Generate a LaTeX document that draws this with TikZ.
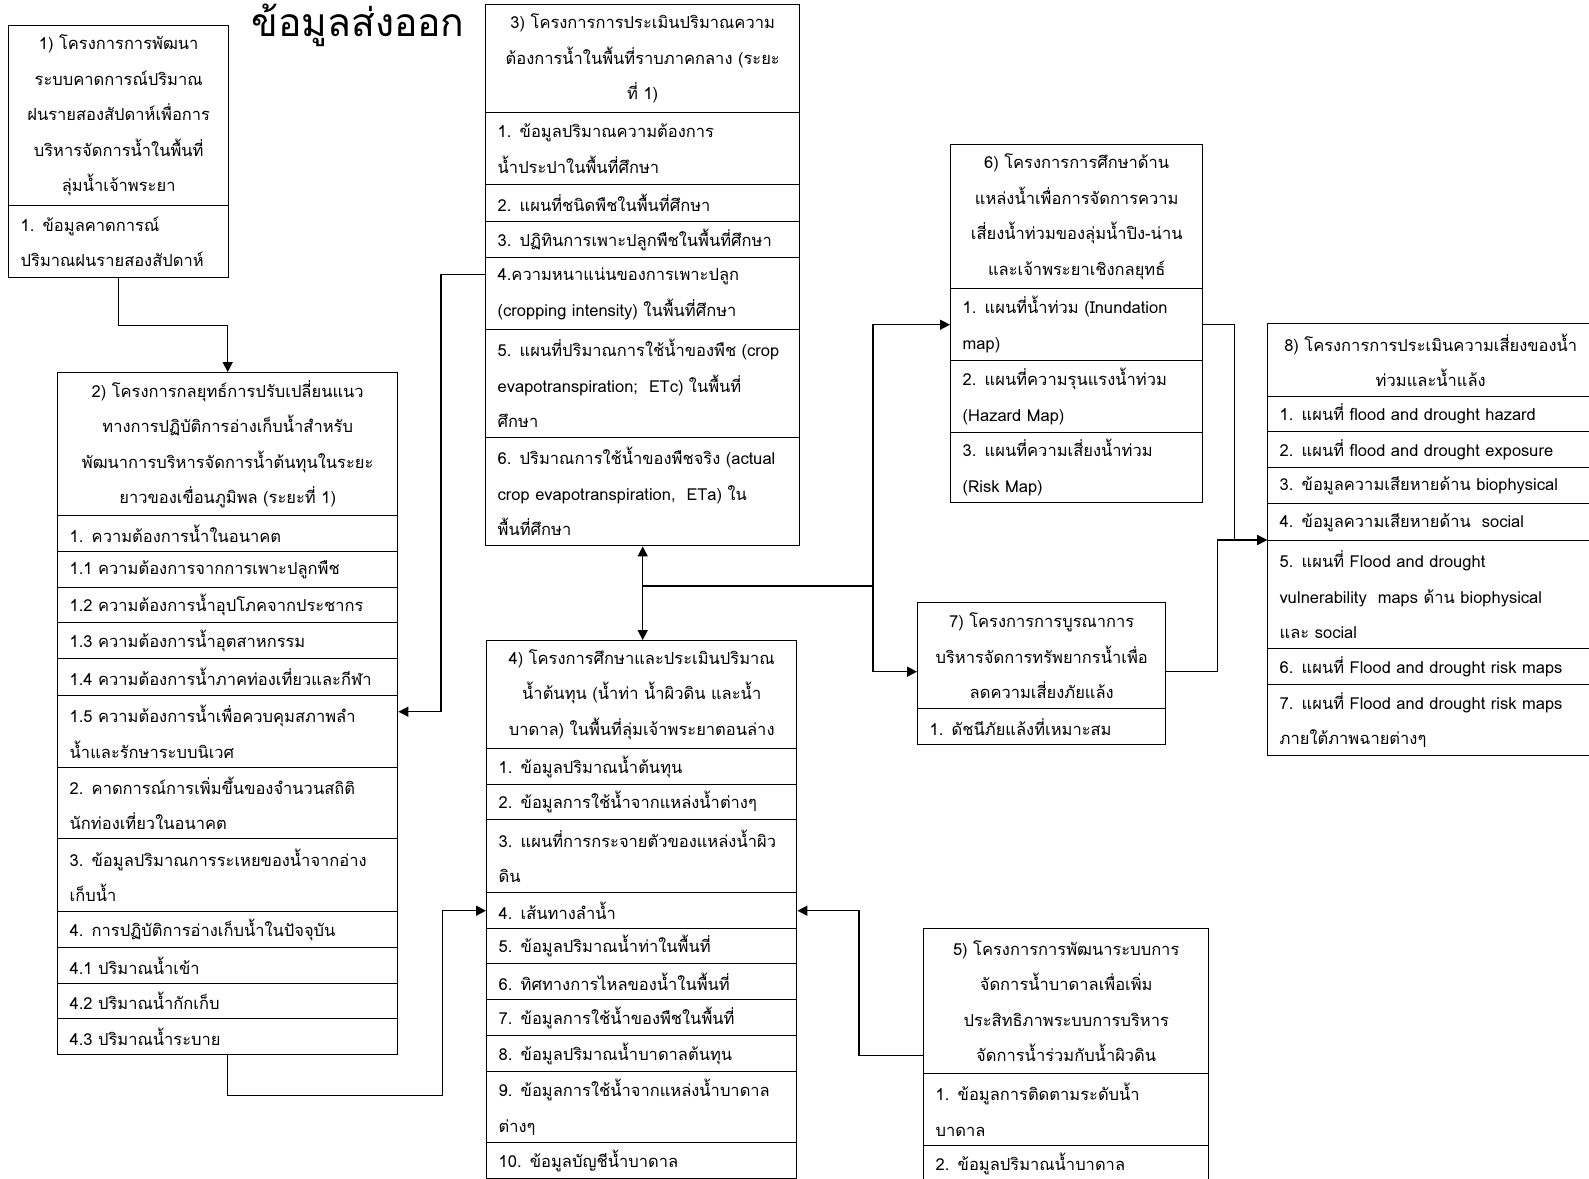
\documentclass[tikz,border=0pt]{standalone}
\usepackage{fontspec}
\setmainfont{Loma}[Script=Thai]
\usetikzlibrary{arrows.meta,positioning}

\tikzset{
  box/.style={draw,line width=1.4pt,anchor=north west,inner ysep=0pt,
    font=\fontsize{16.5}{35.5}\selectfont},
  hd/.style 2 args={box,align=center,inner xsep=4pt,text width=#1pt-8pt,minimum height=#2pt},
  rw/.style 2 args={box,align=left,inner xsep=12pt,text width=#1pt-24pt,minimum height=#2pt},
  ln/.style={line width=1.4pt},
  ar/.style={ln,-{Triangle[length=10pt,width=10pt]}},
  dar/.style={ln,{Triangle[length=10pt,width=10pt]}-{Triangle[length=10pt,width=10pt]}}
}

\begin{document}
\begin{tikzpicture}[x=1pt,y=-1pt]
\useasboundingbox (0,0) rectangle (1589,1178);

\node[font=\fontsize{39}{41}\selectfont,anchor=base] (ttl) at (358,36) {ข้อมูลส่งออก};

% project 1
\node[hd={220}{180}] (p1) at (8,25) {1) โครงการการพัฒนา\\ระบบคาดการณ์ปริมาณ\\ฝนรายสองสัปดาห์เพื่อการ\\บริหารจัดการน้ำในพื้นที่\\ลุ่มน้ำเจ้าพระยา};
\node[rw={220}{72}] (p1r1) at (8,205) {1. ข้อมูลคาดการณ์\\ปริมาณฝนรายสองสัปดาห์};

% project 3
\node[hd={314}{108}] (p3) at (485,4) {3) โครงการการประเมินปริมาณความ\\ต้องการน้ำในพื้นที่ราบภาคกลาง (ระยะ\\ที่ 1)};
\node[rw={314}{72}] (p3r1) at (485,112) {1. ข้อมูลปริมาณความต้องการ\\น้ำประปาในพื้นที่ศึกษา};
\node[rw={314}{37}] (p3r2) at (485,184) {2. แผนที่ชนิดพืชในพื้นที่ศึกษา};
\node[rw={314}{36}] (p3r3) at (485,221) {3. ปฏิทินการเพาะปลูกพืชในพื้นที่ศึกษา};
\node[rw={314}{72}] (p3r4) at (485,257) {4.ความหนาแน่นของการเพาะปลูก\\(cropping~intensity) ในพื้นที่ศึกษา};
\node[rw={314}{108}] (p3r5) at (485,329) {5. แผนที่ปริมาณการใช้น้ำของพืช (crop\\evapotranspiration;~ ETc) ในพื้นที่\\ศึกษา};
\node[rw={314}{108}] (p3r6) at (485,437) {6. ปริมาณการใช้น้ำของพืชจริง (actual\\crop evapotranspiration,~ ETa) ใน\\พื้นที่ศึกษา};

% project 2
\node[hd={340}{143}] (p2) at (57,372) {2) โครงการกลยุทธ์การปรับเปลี่ยนแนว\\ทางการปฏิบัติการอ่างเก็บน้ำสำหรับ\\พัฒนาการบริหารจัดการน้ำต้นทุนในระยะ\\ยาวของเขื่อนภูมิพล (ระยะที่ 1)};
\node[rw={340}{36}] (p2r1) at (57,515) {1. ความต้องการน้ำในอนาคต};
\node[rw={340}{36}] (p2r2) at (57,551) {1.1 ความต้องการจากการเพาะปลูกพืช};
\node[rw={340}{35}] (p2r3) at (57,587) {1.2 ความต้องการน้ำอุปโภคจากประชากร};
\node[rw={340}{36}] (p2r4) at (57,622) {1.3 ความต้องการน้ำอุตสาหกรรม};
\node[rw={340}{37}] (p2r5) at (57,658) {1.4 ความต้องการน้ำภาคท่องเที่ยวและกีฬา};
\node[rw={340}{72}] (p2r6) at (57,695) {1.5 ความต้องการน้ำเพื่อควบคุมสภาพลำ\\น้ำและรักษาระบบนิเวศ};
\node[rw={340}{71}] (p2r7) at (57,767) {2. คาดการณ์การเพิ่มขึ้นของจำนวนสถิติ\\นักท่องเที่ยวในอนาคต};
\node[rw={340}{73}] (p2r8) at (57,838) {3. ข้อมูลปริมาณการระเหยของน้ำจากอ่าง\\เก็บน้ำ};
\node[rw={340}{36}] (p2r9) at (57,911) {4. การปฏิบัติการอ่างเก็บน้ำในปัจจุบัน};
\node[rw={340}{36}] (p2r10) at (57,947) {4.1 ปริมาณน้ำเข้า};
\node[rw={340}{35}] (p2r11) at (57,983) {4.2 ปริมาณน้ำกักเก็บ};
\node[rw={340}{36}] (p2r12) at (57,1018) {4.3 ปริมาณน้ำระบาย};

% project 4
\node[hd={310}{108}] (p4) at (486,640) {4) โครงการศึกษาและประเมินปริมาณ\\น้ำต้นทุน (น้ำท่า น้ำผิวดิน และน้ำ\\บาดาล) ในพื้นที่ลุ่มเจ้าพระยาตอนล่าง};
\node[rw={310}{36}] (p4r1) at (486,748) {1. ข้อมูลปริมาณน้ำต้นทุน};
\node[rw={310}{35}] (p4r2) at (486,784) {2. ข้อมูลการใช้น้ำจากแหล่งน้ำต่างๆ};
\node[rw={310}{73}] (p4r3) at (486,819) {3. แผนที่การกระจายตัวของแหล่งน้ำผิว\\ดิน};
\node[rw={310}{36}] (p4r4) at (486,892) {4. เส้นทางลำน้ำ};
\node[rw={310}{35}] (p4r5) at (486,928) {5. ข้อมูลปริมาณน้ำท่าในพื้นที่};
\node[rw={310}{36}] (p4r6) at (486,963) {6. ทิศทางการไหลของน้ำในพื้นที่};
\node[rw={310}{36}] (p4r7) at (486,999) {7. ข้อมูลการใช้น้ำของพืชในพื้นที่};
\node[rw={310}{36}] (p4r8) at (486,1035) {8. ข้อมูลปริมาณน้ำบาดาลต้นทุน};
\node[rw={310}{71}] (p4r9) at (486,1071) {9. ข้อมูลการใช้น้ำจากแหล่งน้ำบาดาล\\ต่างๆ};
\node[rw={310}{36}] (p4r10) at (486,1142) {10. ข้อมูลบัญชีน้ำบาดาล};

% project 5
\node[hd={285}{145}] (p5) at (923,928) {5) โครงการการพัฒนาระบบการ\\จัดการน้ำบาดาลเพื่อเพิ่ม\\ประสิทธิภาพระบบการบริหาร\\จัดการน้ำร่วมกับน้ำผิวดิน};
\node[rw={285}{72}] (p5r1) at (923,1073) {1. ข้อมูลการติดตามระดับน้ำ\\บาดาล};
\node[rw={285}{36}] (p5r2) at (923,1145) {2. ข้อมูลปริมาณน้ำบาดาล};

% project 6
\node[hd={252}{144}] (p6) at (950,144) {6) โครงการการศึกษาด้าน\\แหล่งน้ำเพื่อการจัดการความ\\เสี่ยงน้ำท่วมของลุ่มน้ำปิง-น่าน\\และเจ้าพระยาเชิงกลยุทธ์};
\node[rw={252}{72}] (p6r1) at (950,288) {1. แผนที่น้ำท่วม (Inundation\\map)};
\node[rw={252}{72}] (p6r2) at (950,360) {2. แผนที่ความรุนแรงน้ำท่วม\\(Hazard Map)};
\node[rw={252}{70}] (p6r3) at (950,432) {3. แผนที่ความเสี่ยงน้ำท่วม\\(Risk Map)};

% project 7
\node[hd={248}{106}] (p7) at (917,602) {7) โครงการการบูรณาการ\\บริหารจัดการทรัพยากรน้ำเพื่อ\\ลดความเสี่ยงภัยแล้ง};
\node[rw={248}{36}] (p7r1) at (917,708) {1. ดัชนีภัยแล้งที่เหมาะสม};

% project 8
\node[hd={326}{73}] (p8) at (1267,323) {8) โครงการการประเมินความเสี่ยงของน้ำ\\ท่วมและน้ำแล้ง};
\node[rw={326}{35}] (p8r1) at (1267,396) {1. แผนที่ flood and drought hazard};
\node[rw={326}{36}] (p8r2) at (1267,431) {2. แผนที่ flood and drought exposure};
\node[rw={326}{36}] (p8r3) at (1267,467) {3. ข้อมูลความเสียหายด้าน biophysical};
\node[rw={326}{37}] (p8r4) at (1267,503) {4. ข้อมูลความเสียหายด้าน~ social};
\node[rw={326}{108}] (p8r5) at (1267,540) {5. แผนที่ Flood and drought\\vulnerability~ maps ด้าน biophysical\\และ social};
\node[rw={326}{36}] (p8r6) at (1267,648) {6. แผนที่ Flood and drought risk maps};
\node[rw={326}{71}] (p8r7) at (1267,684) {7. แผนที่ Flood and drought risk maps\\ภายใต้ภาพฉายต่างๆ};

% connectors
\coordinate (j1) at (642,586);
\draw[ar] (p1r1.south) -- ++(0,47) -| (p2.north);
\draw[ar] ([yshift=19pt]p3r4.west) -- ++(-44,0) |- ([yshift=20pt]p2r6.east);
\draw[ar] (p2r12.south) -- ++(0,40) -- ++(215,0) |- (p4r4.west);
\draw[dar] (p3r6.south) -- (p3r6.south |- p4.north);
\draw[ar] (j1) -- ++(231,0) |- (p6r1.west);
\draw[ar] (j1) -- ++(231,0) |- ([yshift=-16pt]p7.west);
\draw[ar] (p6r1.east) -- ++(31,0) |- (p8r5.north west);
\draw[ar] ([yshift=-16pt]p7.east) -- ++(51,0) |- (p8r5.north west);
\draw[ar] ([yshift=-54pt]p5.west) -- ++(-64,0) |- (p4r4.east);
\end{tikzpicture}
\end{document}
